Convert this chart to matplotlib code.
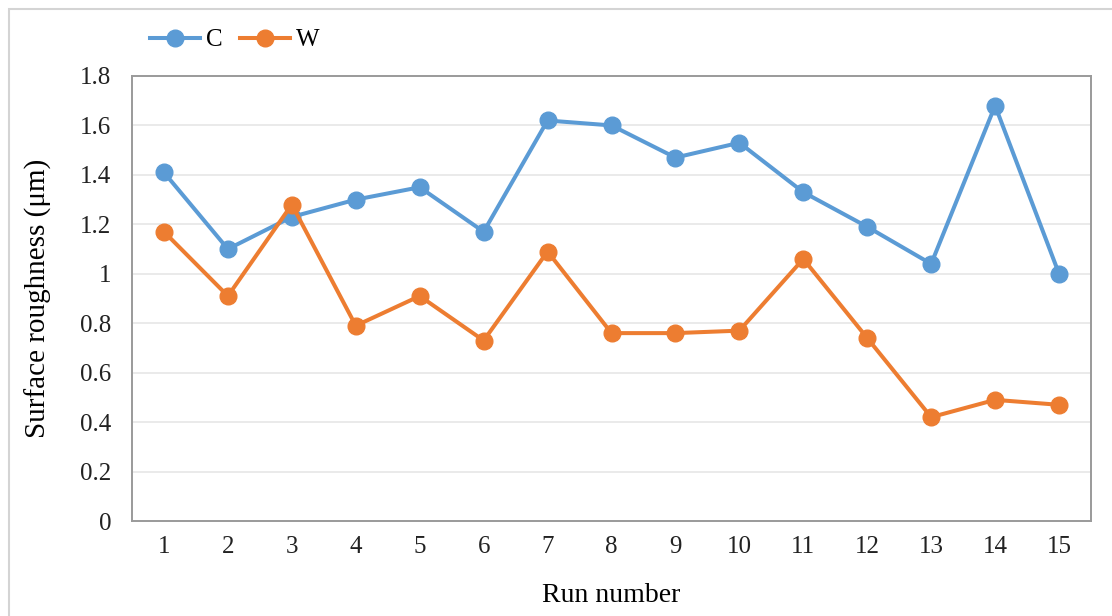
import matplotlib
matplotlib.use("Agg")
import matplotlib.pyplot as plt
from matplotlib.patches import Rectangle

runs = list(range(1, 16))
c_values = [1.41, 1.10, 1.23, 1.30, 1.35, 1.17, 1.62, 1.60, 1.47, 1.53, 1.33, 1.19, 1.04, 1.68, 1.00]
w_values = [1.17, 0.91, 1.28, 0.79, 0.91, 0.73, 1.09, 0.76, 0.76, 0.77, 1.06, 0.74, 0.42, 0.49, 0.47]
y_ticks = [0, 0.2, 0.4, 0.6, 0.8, 1.0, 1.2, 1.4, 1.6, 1.8]
y_tick_labels = ["0", "0.2", "0.4", "0.6", "0.8", "1", "1.2", "1.4", "1.6", "1.8"]

BLUE = "#5B9BD5"
ORANGE = "#ED7D31"

plt.rcParams["font.family"] = ["Liberation Serif", "DejaVu Serif"]

fig = plt.figure(figsize=(11.12, 6.16), dpi=100)
ax = fig.add_axes([132 / 1112, 1 - 521 / 616, (1091 - 132) / 1112, (521 - 76) / 616])

# outer chart frame, cut off at right and bottom like the source
fig.patches.append(Rectangle((9 / 1112, -0.1), 1.2, 1.1 - 9 / 616, transform=fig.transFigure,
                             fill=False, edgecolor="#D4D4D4", lw=1.5, zorder=0))

ax.plot(runs, c_values, color=BLUE, lw=2.9, marker="o", ms=12, label="C", zorder=3)
ax.plot(runs, w_values, color=ORANGE, lw=2.9, marker="o", ms=12, label="W", zorder=3)

ax.set_xlim(0.5, 15.5)
ax.set_ylim(0, 1.8)
ax.set_xticks(runs)
ax.set_xticklabels([str(r) for r in runs])
ax.set_yticks(y_ticks)
ax.set_yticklabels(y_tick_labels)
ax.tick_params(axis="both", length=0, labelsize=18, colors="#222222")
ax.tick_params(axis="y", pad=15)
ax.tick_params(axis="x", pad=11)
ax.grid(axis="y", color="#E6E6E6", lw=1.2)
ax.set_axisbelow(True)
for s in ax.spines.values():
    s.set_color("#9A9A9A")
    s.set_linewidth(1.4)

ax.set_ylabel("Surface roughness (μm)", fontsize=21, labelpad=20)
ax.set_xlabel("Run number", fontsize=20, labelpad=18)

fig.legend(loc="center left", bbox_to_anchor=(127 / 1112, 1 - 40 / 616), ncol=2, frameon=False,
           fontsize=18, handlelength=2.0, handletextpad=0.25, columnspacing=0.7)

fig.savefig("out.png", dpi=100)
